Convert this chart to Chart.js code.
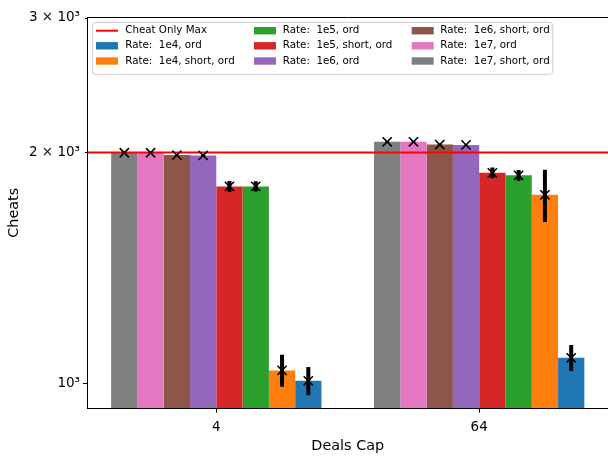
<!DOCTYPE html>
<html>
<head>
<meta charset="utf-8">
<script src="https://cdn.jsdelivr.net/npm/chart.js@4/dist/chart.umd.min.js"></script>
<style>
  html, body { margin: 0; padding: 0; background: #fff; }
  #wrap { width: 608px; height: 456px; position: relative; }
</style>
</head>
<body>
<div id="wrap"><canvas id="c" width="608" height="456"></canvas></div>
<script>
// Deals cap categories on the x axis
const caps = ['4', '64'];

// Series, in bar order within each group (left to right)
const seriesNames = [
  'Rate:  1e7, short, ord',
  'Rate:  1e7, ord',
  'Rate:  1e6, short, ord',
  'Rate:  1e6, ord',
  'Rate:  1e5, short, ord',
  'Rate:  1e5, ord',
  'Rate:  1e4, short, ord',
  'Rate:  1e4, ord'
];
const seriesColors = ['#7f7f7f', '#e377c2', '#8c564b', '#9467bd', '#d62728', '#2ca02c', '#ff7f0e', '#1f77b4'];

// Mean cheats per series, one array per deals cap
const meanCap4  = [1998, 1998, 1984, 1982, 1806, 1806, 1039, 1007];
const meanCap64 = [2065, 2065, 2048, 2046, 1881, 1867, 1761, 1079];

// Error half-widths per series
const errCap4  = [3, 3, 3, 3, 30, 28, 50, 43];
const errCap64 = [3, 3, 3, 3, 30, 30, 138, 42];

// Reference line
const cheatOnlyMaxLabel = 'Cheat Only Max';
const cheatOnlyMax = 2000;

// Y axis ticks
const yTickValues = [1000, 2000, 3000];
const yTickLabels = ['10³', '2 × 10³', '3 × 10³'];

const FONT = '"DejaVu Sans", sans-serif';

const barDatasets = seriesNames.map((name, i) => ({
  type: 'bar',
  label: name,
  data: [{ x: 0, y: meanCap4[i] }, { x: 1, y: meanCap64[i] }],
  err: [errCap4[i], errCap64[i]],
  backgroundColor: seriesColors[i],
  borderWidth: 0,
  categoryPercentage: 0.8,
  barPercentage: 1.0
}));

const lineDataset = {
  type: 'line',
  label: cheatOnlyMaxLabel,
  data: [{ x: -0.49, y: cheatOnlyMax }, { x: 1.49, y: cheatOnlyMax }],
  borderColor: '#ff0000',
  borderWidth: 2,
  pointRadius: 0,
  fill: false
};

// Error bars, markers, spine, tick marks and legend
const overlay = {
  id: 'overlay',
  afterDatasetsDraw(chart) {
    const ctx = chart.ctx;
    const ys = chart.scales.y;
    const area = chart.chartArea;
    ctx.save();
    ctx.beginPath();
    ctx.rect(area.left, area.top, area.right - area.left, area.bottom - area.top);
    ctx.clip();
    chart.data.datasets.forEach((ds, di) => {
      if (ds.type !== 'bar') return;
      const meta = chart.getDatasetMeta(di);
      meta.data.forEach((bar, i) => {
        const v = ds.data[i].y;
        const e = ds.err[i];
        const x = bar.x;
        ctx.strokeStyle = '#000';
        ctx.lineCap = 'butt';
        ctx.lineWidth = 4;
        ctx.beginPath();
        ctx.moveTo(x, ys.getPixelForValue(v + e));
        ctx.lineTo(x, ys.getPixelForValue(v - e));
        ctx.stroke();
        const py = ys.getPixelForValue(v);
        const s = 4.6;
        ctx.lineWidth = 1.6;
        ctx.beginPath();
        ctx.moveTo(x - s, py - s); ctx.lineTo(x + s, py + s);
        ctx.moveTo(x - s, py + s); ctx.lineTo(x + s, py - s);
        ctx.stroke();
      });
    });
    ctx.restore();
  },
  afterDraw(chart) {
    const ctx = chart.ctx;
    const area = chart.chartArea;
    const xs = chart.scales.x, ys = chart.scales.y;
    ctx.save();
    // top spine
    ctx.strokeStyle = '#000';
    ctx.lineWidth = 1;
    ctx.beginPath();
    ctx.moveTo(area.left - 0.5, area.top);
    ctx.lineTo(area.right, area.top);
    ctx.stroke();
    // x tick marks
    [0, 1].forEach(v => {
      const px = Math.round(xs.getPixelForValue(v)) + 0.5;
      ctx.beginPath();
      ctx.moveTo(px, area.bottom);
      ctx.lineTo(px, area.bottom + 4.6);
      ctx.stroke();
    });
    // y tick marks: major at the decade, minor elsewhere
    yTickValues.forEach(v => {
      const py = Math.round(ys.getPixelForValue(v)) + 0.5;
      const len = (v === 1000) ? 4.6 : 2.6;
      ctx.beginPath();
      ctx.moveTo(area.left, py);
      ctx.lineTo(area.left - len, py);
      ctx.stroke();
    });

    // legend
    const entries = [{ label: cheatOnlyMaxLabel, color: '#ff0000', line: true }];
    for (let i = seriesNames.length - 1; i >= 0; i--) {
      entries.push({ label: seriesNames[i], color: seriesColors[i], line: false });
    }
    const boxX = 92.7, boxY = 22.3, boxW = 460, boxH = 52;
    ctx.beginPath();
    ctx.roundRect(boxX, boxY, boxW, boxH, 3);
    ctx.fillStyle = 'rgba(255,255,255,0.8)';
    ctx.fill();
    ctx.strokeStyle = '#cccccc';
    ctx.lineWidth = 1;
    ctx.stroke();

    const handleX = [96, 254, 411.7];
    const textX = [125.2, 282.8, 440.2];
    const rowY = [30.7, 45.8, 61];
    ctx.font = '10.3px ' + FONT;
    ctx.textBaseline = 'middle';
    ctx.textAlign = 'left';
    entries.forEach((en, k) => {
      const col = Math.floor(k / 3), row = k % 3;
      const hx = handleX[col], cy = rowY[row];
      if (en.line) {
        ctx.strokeStyle = en.color;
        ctx.lineWidth = 2;
        ctx.beginPath();
        ctx.moveTo(hx, cy);
        ctx.lineTo(hx + 22, cy);
        ctx.stroke();
      } else {
        ctx.fillStyle = en.color;
        ctx.fillRect(hx, cy - 3.7, 22, 7.4);
      }
      ctx.fillStyle = '#000';
      ctx.fillText(en.label, textX[col], cy);
    });
    ctx.restore();
  }
};

new Chart(document.getElementById('c'), {
  type: 'bar',
  data: { datasets: [lineDataset, ...barDatasets] },
  options: {
    responsive: false,
    animation: false,
    devicePixelRatio: 1,
    layout: { padding: { top: 17.5, right: 0, left: 0, bottom: 0 } },
    plugins: { legend: { display: false }, tooltip: { enabled: false } },
    scales: {
      x: {
        type: 'linear',
        min: -0.49,
        max: 1.49,
        offset: false,
        grid: { display: true, drawOnChartArea: false, drawTicks: false },
        border: { display: true, color: '#000', width: 1 },
        afterBuildTicks: s => { s.ticks = [{ value: 0 }, { value: 1 }]; },
        afterFit: s => { s.height = 48; },
        ticks: {
          color: '#000',
          font: { family: FONT, size: 13.5 },
          padding: 11,
          maxRotation: 0,
          callback: (v, idx) => caps[idx]
        },
        title: {
          display: true,
          text: 'Deals Cap',
          color: '#000',
          font: { family: FONT, size: 14.4 },
          padding: { top: 0, bottom: 1.4 }
        }
      },
      y: {
        type: 'logarithmic',
        min: 928,
        max: 3000,
        grid: { display: true, drawOnChartArea: false, drawTicks: false },
        border: { display: true, color: '#000', width: 1 },
        afterBuildTicks: s => { s.ticks = yTickValues.map(v => ({ value: v })); },
        afterFit: s => { s.width = 87.5; },
        ticks: {
          color: '#000',
          font: { family: FONT, size: 13.5 },
          padding: 7.5,
          callback: (v, idx) => yTickLabels[idx]
        },
        title: {
          display: true,
          text: 'Cheats',
          color: '#000',
          font: { family: FONT, size: 14.4 },
          padding: { top: 6, bottom: 0 }
        }
      }
    }
  },
  plugins: [overlay]
});
</script>
</body>
</html>
